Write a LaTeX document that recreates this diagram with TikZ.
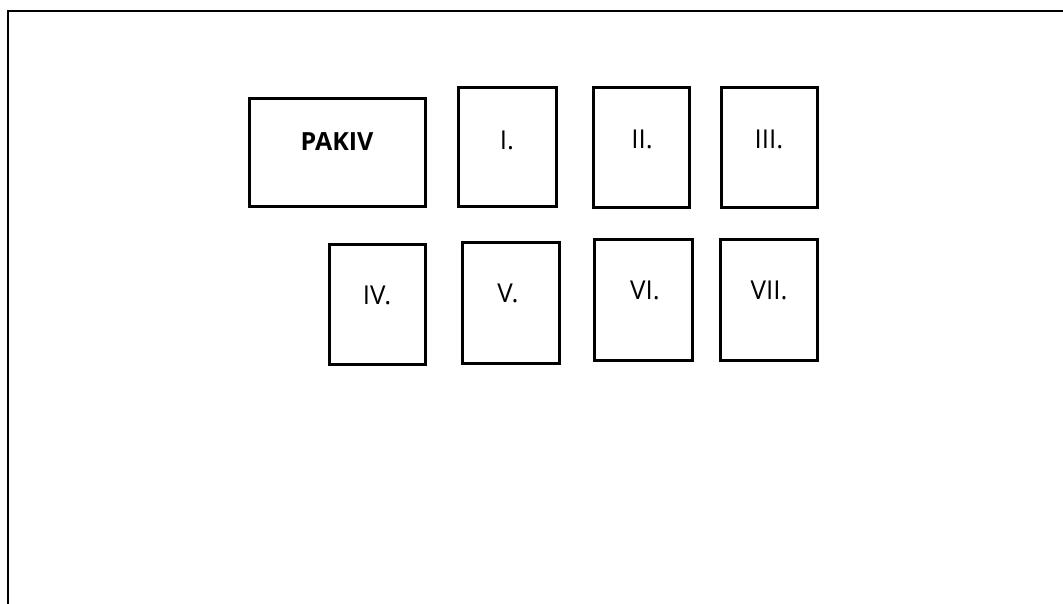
\documentclass[tikz,border=0pt]{standalone}
\usepackage{fontspec}
\setmainfont{Open Sans}
\begin{document}
\begin{tikzpicture}[x=1pt,y=-1pt,
  box/.style={draw=black,line width=2.8pt,inner sep=0pt,minimum width=#1},
  box/.default=99pt,
  lbl/.style={inner sep=0pt,font=\fontsize{26}{30}\selectfont},
  title/.style={inner sep=0pt,font=\fontsize{25}{29}\selectfont\bfseries}]
\useasboundingbox (0,0) rectangle (1063,604);
\draw[line width=2.8pt] (8,610) -- (8,11) -- (1070,11);
% first row
\node[box=176pt,minimum height=108pt] (pakiv) at (337.5,152.5) {};
\node[title] (tpakiv) at (337,142) {PAKIV};
\node[box=98pt,minimum height=119pt] (b1) at (507.5,147) {};
\node[lbl] (t1) at (507,140) {I.};
\node[box=96pt,minimum height=120pt] (b2) at (641.5,147.5) {};
\node[lbl] (t2) at (642,139) {II.};
\node[box=96pt,minimum height=120pt] (b3) at (769.5,147.5) {};
\node[lbl] (t3) at (769,139) {III.};
% second row
\node[box=96pt,minimum height=120pt] (b4) at (377.5,304.5) {};
\node[lbl] (t4) at (377,295) {IV.};
\node[box=97pt,minimum height=121pt] (b5) at (511,303) {};
\node[lbl] (t5) at (508,293) {V.};
\node[box=98pt,minimum height=121pt] (b6) at (643.5,300) {};
\node[lbl] (t6) at (645,290) {VI.};
\node[box=97pt,minimum height=121pt] (b7) at (769,300) {};
\node[lbl] (t7) at (769,290) {VII.};
\end{tikzpicture}
\end{document}
